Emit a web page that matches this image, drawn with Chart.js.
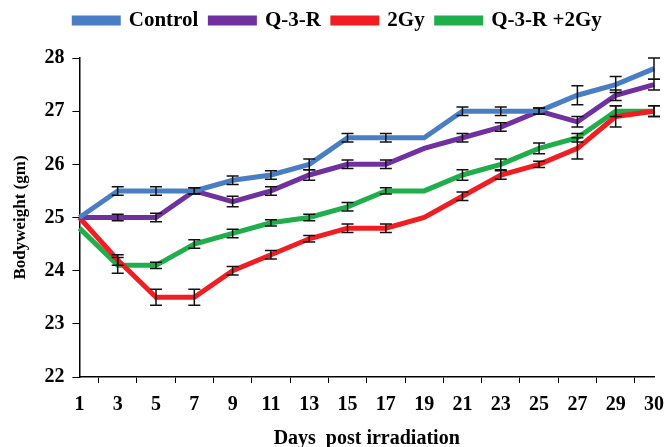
<!DOCTYPE html>
<html>
<head>
<meta charset="utf-8">
<script src="https://cdn.jsdelivr.net/npm/chart.js@4/dist/chart.umd.min.js"></script>
<style>
  html,body{margin:0;padding:0;background:#fff;}
  #wrap{width:667px;height:447px;}
</style>
</head>
<body>
<div id="wrap"><canvas id="chart" width="667" height="447"></canvas></div>
<script>
const days = ['1','3','5','7','9','11','13','15','17','19','21','23','25','27','29','30'];
const yTicks = [22,23,24,25,26,27,28];

const control   = [25.0,25.5,25.5,25.5,25.7,25.8,26.0,26.5,26.5,26.5,27.0,27.0,27.0,27.3,27.5,27.8];
const q3r       = [25.0,25.0,25.0,25.5,25.3,25.5,25.8,26.0,26.0,26.3,26.5,26.7,27.0,26.8,27.3,27.5];
const gy2       = [25.0,24.2,23.5,23.5,24.0,24.3,24.6,24.8,24.8,25.0,25.4,25.8,26.0,26.3,26.9,27.0];
const q3rGy     = [24.8,24.1,24.1,24.5,24.7,24.9,25.0,25.2,25.5,25.5,25.8,26.0,26.3,26.5,27.0,27.0];

// +/- error per point
const controlErr = [0,0.08,0.08,0.06,0.08,0.08,0.1,0.08,0.08,0,0.08,0.08,0.06,0.18,0.15,0.2];
const q3rErr     = [0,0.06,0.08,0.06,0.1,0.08,0.1,0.08,0.08,0,0.08,0.08,0.06,0.1,0.1,0.1];
const gy2Err     = [0,0.1,0.15,0.15,0.08,0.08,0.06,0.08,0.08,0,0.08,0.08,0.06,0.2,0.2,0.1];
const q3rGyErr   = [0,0.15,0.06,0.08,0.08,0.06,0.06,0.08,0.06,0,0.1,0.1,0.1,0.08,0.1,0.1];

const FONT = '"Liberation Serif", "Times New Roman", serif';

const errorBars = {
  id:'errorBars',
  afterDatasetsDraw(chart){
    const {ctx, scales:{y}} = chart;
    ctx.save();
    ctx.strokeStyle = '#111'; ctx.lineWidth = 1.5;
    chart.data.datasets.forEach((ds,i)=>{
      const meta = chart.getDatasetMeta(i);
      meta.data.forEach((pt,j)=>{
        const e = ds.err[j]; if(!e) return;
        const v = ds.data[j];
        const y1 = y.getPixelForValue(v+e), y2 = y.getPixelForValue(v-e);
        const x = pt.x, w = 6;
        ctx.beginPath();
        ctx.moveTo(x,y1); ctx.lineTo(x,y2);
        ctx.moveTo(x-w,y1); ctx.lineTo(x+w,y1);
        ctx.moveTo(x-w,y2); ctx.lineTo(x+w,y2);
        ctx.stroke();
      });
    });
    ctx.restore();
  }
};

// extra room under the legend
const legendMargin = {
  id:'legendMargin',
  beforeInit(chart){
    const fit = chart.legend.fit;
    chart.legend.fit = function(){ fit.bind(chart.legend)(); this.height += 17; };
  }
};

function line(label, data, err, color){
  return { label, data, err, borderColor:color, backgroundColor:color, borderWidth:5,
    pointRadius:0, tension:0, fill:false };
}

new Chart(document.getElementById('chart').getContext('2d'), {
  type:'line',
  data:{
    labels: days,
    datasets:[
      line('Control', control, controlErr, '#4a7ec4'),
      line('Q-3-R', q3r, q3rErr, '#7030a0'),
      line('2Gy', gy2, gy2Err, '#f01e23'),
      line('Q-3-R +2Gy', q3rGy, q3rGyErr, '#20ad4c')
    ]
  },
  options:{
    responsive:false,
    animation:false,
    layout:{ padding:{ top:-2, right:1, left:10, bottom:-4 } },
    plugins:{
      legend:{ position:'top',
        labels:{ boxWidth:44, boxHeight:5, padding:12, color:'#000',
          font:{ family:FONT, size:21, weight:'bold' } } },
      tooltip:{ enabled:false }
    },
    scales:{
      x:{ offset:false,
        afterFit(sc){ sc.paddingRight = 13; },
        grid:{ display:true, drawOnChartArea:false, tickLength:6, color:'#000', offset:true },
        border:{ color:'#000', width:1.5 },
        ticks:{ color:'#000', autoSkip:false, maxRotation:0, padding:10,
          font:{ family:FONT, size:20, weight:'bold' } },
        title:{ display:true, text:'Days  post irradiation', color:'#000',
          font:{ family:FONT, size:20, weight:'bold' }, padding:{top:0, bottom:0} }
      },
      y:{ min:22, max:28,
        afterBuildTicks(ax){ ax.ticks = yTicks.map(v=>({value:v})); },
        grid:{ display:true, drawOnChartArea:false, tickLength:7, color:'#000' },
        border:{ color:'#000', width:1.5 },
        ticks:{ color:'#000', padding:8, font:{ family:FONT, size:20, weight:'bold' } },
        title:{ display:true, text:'Bodyweight (gm)', color:'#000',
          font:{ family:FONT, size:17, weight:'bold' }, padding:{top:0, bottom:6} }
      }
    }
  },
  plugins:[errorBars, legendMargin]
});
</script>
</body>
</html>
